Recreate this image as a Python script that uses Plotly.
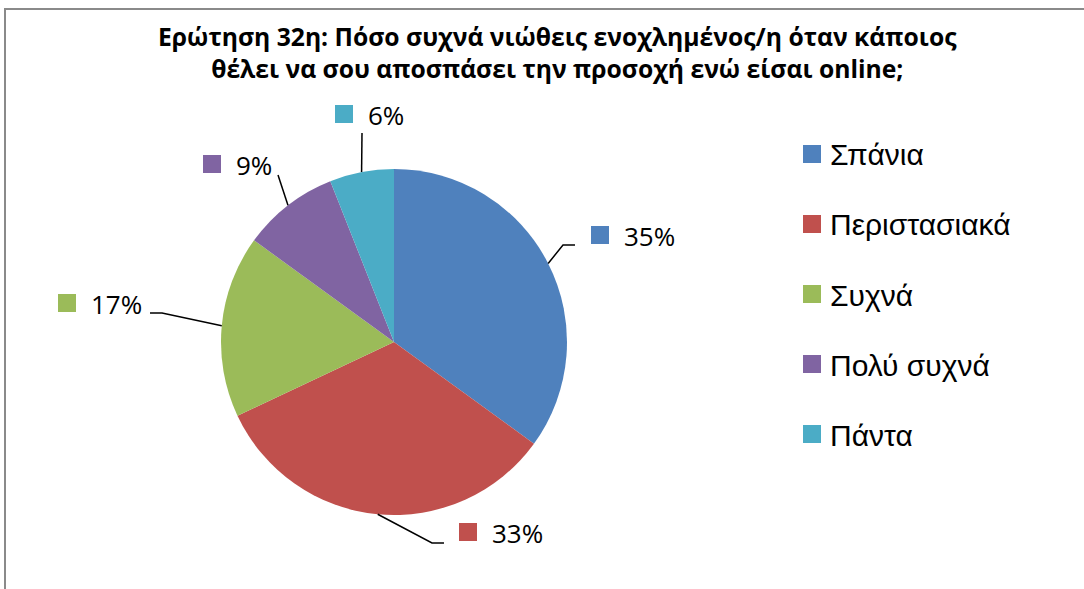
import math
import plotly.graph_objects as go

# Survey answers and their shares (%)
categories = ["Σπάνια", "Περιστασιακά", "Συχνά", "Πολύ συχνά", "Πάντα"]
shares = [35, 33, 17, 9, 6]
colors = ["#4F81BD", "#C0504D", "#9BBB59", "#8064A2", "#4BACC6"]
title_lines = [
    "Ερώτηση 32η: Πόσο συχνά νιώθεις ενοχλημένος/η όταν κάποιος",
    "θέλει να σου αποσπάσει την προσοχή ενώ είσαι online;",
]

W, H = 1084, 589
CX, CY, R = 394, 342, 173          # pie centre and radius (px)

# Label placement: left edge of the key square, vertical centre, and the
# bend points of the leader line (px), one entry per slice.
LABEL_LAYOUT = [
    dict(x=591, y=235, path=[(563, 245), (575, 245)]),
    dict(x=459, y=532, path=[(432, 543), (444, 543)]),
    dict(x=58, y=303, path=[(162, 313), (150, 313)]),
    dict(x=203, y=164, path=[(278, 175)]),
    dict(x=335, y=114, path=[(362, 133)]),
]
LEGEND_X, LEGEND_Y0, LEGEND_DY = 803, 154, 70
KEY = 18


def px(x):
    return x / W


def py(y):
    return 1 - y / H


fig = go.Figure(
    go.Pie(
        labels=categories,
        values=shares,
        sort=False,
        direction="clockwise",
        rotation=0,
        marker=dict(colors=colors, line=dict(width=0)),
        textinfo="none",
        hoverinfo="label+percent",
        showlegend=False,
        domain=dict(x=[px(CX - R), px(CX + R)], y=[py(CY + R), py(CY - R)]),
    )
)

shapes = []
annotations = []

# Outer chart frame
shapes.append(dict(type="rect", xref="paper", yref="paper",
                   x0=px(5), x1=px(W + 20), y0=py(H + 20), y1=py(9),
                   line=dict(color="#8a8a8a", width=2), fillcolor="rgba(0,0,0,0)"))

# Data labels with leader lines
total = sum(shares)
cum = 0
for val, col, lay in zip(shares, colors, LABEL_LAYOUT):
    mid = (cum + val / 2) / total * 2 * math.pi
    cum += val
    ex, ey = CX + R * math.sin(mid), CY - R * math.cos(mid)
    pts = [(ex, ey)] + lay["path"]
    d = "M " + " L ".join(f"{px(x):.5f},{py(y):.5f}" for x, y in pts)
    shapes.append(dict(type="path", xref="paper", yref="paper", path=d,
                       line=dict(color="#000000", width=1.5)))
    shapes.append(dict(type="rect", xref="paper", yref="paper",
                       x0=px(lay["x"]), x1=px(lay["x"] + KEY),
                       y0=py(lay["y"] + KEY / 2), y1=py(lay["y"] - KEY / 2),
                       line=dict(width=0), fillcolor=col))
    pct = round(val / total * 100)
    annotations.append(dict(xref="paper", yref="paper", x=px(lay["x"] + KEY + 13), y=py(lay["y"] + 1),
                            xanchor="left", yanchor="middle", showarrow=False,
                            text=f"{pct}%", font=dict(family="Open Sans", size=26, color="#000000")))

# Legend
for i, (cat, col) in enumerate(zip(categories, colors)):
    yy = LEGEND_Y0 + i * LEGEND_DY
    shapes.append(dict(type="rect", xref="paper", yref="paper",
                       x0=px(LEGEND_X), x1=px(LEGEND_X + KEY),
                       y0=py(yy + KEY / 2), y1=py(yy - KEY / 2),
                       line=dict(width=0), fillcolor=col))
    annotations.append(dict(xref="paper", yref="paper", x=px(LEGEND_X + 25), y=py(yy + 1),
                            xanchor="left", yanchor="middle", showarrow=False,
                            text=cat, font=dict(family="Liberation Sans", size=30, color="#000000")))

# Title
annotations.append(dict(xref="paper", yref="paper", x=px(557), y=py(53),
                        xanchor="center", yanchor="middle", showarrow=False,
                        text="<b>" + "<br>".join(title_lines) + "</b>",
                        font=dict(family="Open Sans", size=24.7, color="#000000")))

fig.update_layout(
    width=W, height=H,
    margin=dict(l=0, r=0, t=0, b=0),
    paper_bgcolor="white", plot_bgcolor="white",
    shapes=shapes, annotations=annotations,
)

fig.write_html("out.html")
